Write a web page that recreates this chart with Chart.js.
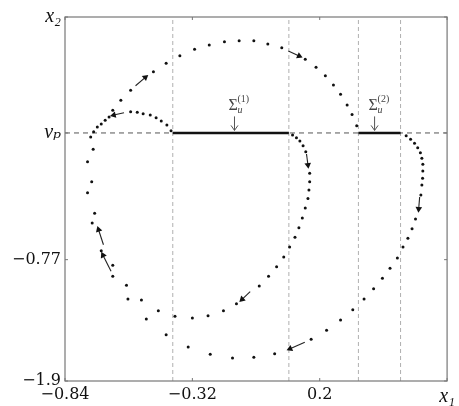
<!DOCTYPE html>
<html>
<head>
<meta charset="utf-8">
<script src="https://cdn.jsdelivr.net/npm/chart.js@4.4.1/dist/chart.umd.min.js"></script>
<style>
  body { margin: 0; background: #fff; }
</style>
</head>
<body>
<canvas id="phaseChart" width="459" height="406"></canvas>
<script>
const xTicks = [-0.84, -0.32, 0.2, 0.72];
const xTickLabels = ['\u22120.84', '\u22120.32', '0.2', 'x\u2081'];
const yTicks = [-1.9, -0.77, 0.41, 1.49];
const yTickLabels = ['\u22121.9', '\u22120.77', 'v\u209A', 'x\u2082'];

const vp = 0.41;
const switchLines = [-0.40, 0.074, 0.358, 0.53];
const sigma1 = [-0.40, 0.074];
const sigma2 = [0.358, 0.53];

// trajectory leaving the right end of sigma1
const traj1 = [
    [0.089, 0.391], [0.105, 0.366], [0.119, 0.335], [0.132, 0.291], [0.143, 0.236],
    [0.159, 0.034], [0.159, -0.044], [0.156, -0.121], [0.152, -0.200], [0.141, -0.289],
    [0.129, -0.382], [0.115, -0.472], [0.099, -0.562], [0.077, -0.652], [0.053, -0.745],
    [0.024, -0.835], [-0.009, -0.925], [-0.047, -1.015], [-0.140, -1.180], [-0.193, -1.245],
    [-0.256, -1.292], [-0.320, -1.313], [-0.391, -1.297], [-0.459, -1.245], [-0.528, -1.146],
    [-0.589, -1.009], [-0.645, -0.822], [-0.719, -0.338], [-0.731, -0.044], [-0.725, 0.258],
    [-0.723, 0.422], [-0.708, 0.466], [-0.676, 0.528], [-0.645, 0.621], [-0.612, 0.714],
    [-0.572, 0.807], [-0.479, 0.981], [-0.427, 1.059], [-0.371, 1.130], [-0.311, 1.189],
    [-0.251, 1.229], [-0.189, 1.260], [-0.129, 1.269], [-0.069, 1.269], [-0.012, 1.239],
    [0.045, 1.204], [0.141, 1.096], [0.185, 1.022], [0.223, 0.943], [0.256, 0.857],
    [0.285, 0.770], [0.312, 0.670], [0.332, 0.582], [0.351, 0.478]
];

// trajectory leaving the right end of sigma2
const traj2 = [
    [0.553, 0.385], [0.571, 0.351], [0.587, 0.314], [0.600, 0.273], [0.611, 0.226],
    [0.617, 0.174], [0.621, 0.118], [0.621, 0.056], [0.620, -0.012], [0.617, -0.075],
    [0.613, -0.168], [0.591, -0.391], [0.577, -0.482], [0.560, -0.571], [0.540, -0.652],
    [0.517, -0.754], [0.487, -0.850], [0.456, -0.943], [0.420, -1.040], [0.381, -1.136],
    [0.335, -1.236], [0.285, -1.332], [0.228, -1.428], [0.165, -1.512], [0.016, -1.646],
    [-0.069, -1.679], [-0.156, -1.686], [-0.247, -1.651], [-0.337, -1.583], [-0.427, -1.469],
    [-0.508, -1.323], [-0.583, -1.136], [-0.645, -0.925], [-0.692, -0.687], [-0.729, -0.429],
    [-0.748, -0.146], [-0.748, 0.142], [-0.735, 0.372], [-0.692, 0.494], [-0.660, 0.559],
    [-0.572, 0.608], [-0.545, 0.602], [-0.521, 0.589], [-0.492, 0.577], [-0.468, 0.552],
    [-0.447, 0.521], [-0.424, 0.484], [-0.407, 0.431]
];

const arrowTails = [
    [-0.552, 0.850], [-0.599, 0.599], [0.072, 1.173], [0.146, 0.214], [0.608, -0.186],
    [-0.084, -1.068], [0.139, -1.540], [-0.683, -0.631], [-0.652, -0.878]
];
const arrowTips = [
    [-0.512, 0.928], [-0.641, 0.577], [0.116, 1.127], [0.152, 0.112], [0.604, -0.298],
    [-0.117, -1.139], [0.079, -1.599], [-0.703, -0.491], [-0.685, -0.729]
];

const sigmaNames = ['(1)', '(2)'];
const sigmaNoteX = [-0.148, 0.424];
const sigmaNoteY = 0.62;

const toPts = arr => arr.map(p => ({ x: p[0], y: p[1] }));
const serif = '"DejaVu Serif", "Liberation Serif", serif';
const mathSerif = '"Liberation Serif", "DejaVu Serif", serif';

function arrowRotation(ctx) {
    if (ctx.type !== 'data') return 0;
    const pts = ctx.chart.data.datasets[ctx.datasetIndex].data;
    const xs = ctx.chart.scales.x, ys = ctx.chart.scales.y;
    const dx = xs.getPixelForValue(pts[1].x) - xs.getPixelForValue(pts[0].x);
    const dy = ys.getPixelForValue(pts[1].y) - ys.getPixelForValue(pts[0].y);
    return Math.atan2(dy, dx) * 180 / Math.PI + 90;
}

const datasets = [];

switchLines.forEach(xv => {
    datasets.push({
        type: 'line',
        data: [{ x: xv, y: -1.9 }, { x: xv, y: 1.49 }],
        borderColor: '#b0b0b0',
        borderWidth: 1,
        borderDash: [4, 3],
        pointRadius: 0,
        order: 10
    });
});

datasets.push({
    type: 'line',
    data: [{ x: -0.84, y: vp }, { x: 0.72, y: vp }],
    borderColor: '#555',
    borderWidth: 1,
    borderDash: [5, 4],
    pointRadius: 0,
    order: 9
});

[sigma1, sigma2].forEach(seg => {
    datasets.push({
        type: 'line',
        data: [{ x: seg[0], y: vp }, { x: seg[1], y: vp }],
        borderColor: '#111',
        borderWidth: 2.6,
        pointRadius: 0,
        order: 5
    });
});

[traj1, traj2].forEach(tr => {
    datasets.push({
        type: 'scatter',
        data: toPts(tr),
        backgroundColor: '#111',
        borderWidth: 0,
        pointRadius: 1.5,
        order: 2
    });
});

arrowTails.forEach((t, i) => {
    datasets.push({
        type: 'line',
        data: toPts([t, arrowTips[i]]),
        borderColor: '#222',
        borderWidth: 1.1,
        backgroundColor: '#111',
        pointBorderWidth: 0,
        pointStyle: 'triangle',
        pointRadius: [0, 3.8],
        rotation: arrowRotation,
        order: 1
    });
});

const framePlugin = {
    id: 'frame',
    afterDatasetsDraw(chart) {
        const { ctx, chartArea: a, scales: { x, y } } = chart;
        ctx.save();
        ctx.strokeStyle = '#777';
        ctx.lineWidth = 1.2;
        ctx.strokeRect(a.left, a.top, a.right - a.left, a.bottom - a.top);

        ctx.lineWidth = 1;
        xTicks.forEach(v => {
            const px = x.getPixelForValue(v);
            ctx.beginPath();
            ctx.moveTo(px, a.bottom); ctx.lineTo(px, a.bottom - 3);
            ctx.moveTo(px, a.top); ctx.lineTo(px, a.top + 3);
            ctx.stroke();
        });
        yTicks.forEach(v => {
            const py = y.getPixelForValue(v);
            ctx.beginPath();
            ctx.moveTo(a.left, py); ctx.lineTo(a.left + 3, py);
            ctx.moveTo(a.right, py); ctx.lineTo(a.right - 3, py);
            ctx.stroke();
        });

        // sliding region labels
        sigmaNames.forEach((name, i) => {
            const cx = x.getPixelForValue(sigmaNoteX[i]);
            const by = y.getPixelForValue(sigmaNoteY);
            ctx.fillStyle = '#444';
            ctx.textAlign = 'left';
            ctx.textBaseline = 'alphabetic';
            ctx.font = '16px "Liberation Serif", serif';
            ctx.fillText('\u03A3', cx - 6, by);
            ctx.font = 'italic 10px "Liberation Serif", serif';
            ctx.fillText('u', cx + 3, by + 3);
            ctx.font = '10px "Liberation Serif", serif';
            ctx.fillText(name, cx + 3, by - 8);

            ctx.strokeStyle = '#555';
            ctx.lineWidth = 1;
            ctx.beginPath();
            ctx.moveTo(cx, by + 6);
            ctx.lineTo(cx, by + 20);
            ctx.moveTo(cx - 3.5, by + 15);
            ctx.lineTo(cx, by + 20);
            ctx.lineTo(cx + 3.5, by + 15);
            ctx.stroke();
        });
        ctx.restore();
    }
};

new Chart(document.getElementById('phaseChart'), {
    data: { datasets: datasets },
    options: {
        responsive: false,
        animation: false,
        devicePixelRatio: 1,
        layout: {
            autoPadding: false,
            padding: { top: 17, right: 4, left: 0, bottom: 0 }
        },
        plugins: {
            legend: { display: false },
            tooltip: { enabled: false }
        },
        scales: {
            x: {
                type: 'linear',
                min: -0.84,
                max: 0.72,
                grid: { display: false, drawTicks: false },
                border: { display: false },
                afterBuildTicks: s => { s.ticks = xTicks.map(v => ({ value: v })); },
                afterFit: s => { s.height = 25; },
                ticks: {
                    padding: 4,
                    color: '#111',
                    maxRotation: 0,
                    autoSkip: false,
                    font: c => c.index === 3
                        ? { family: mathSerif, size: 20, style: 'italic' }
                        : { family: serif, size: 16 },
                    callback: (v, i) => xTickLabels[i]
                }
            },
            y: {
                type: 'linear',
                min: -1.9,
                max: 1.49,
                grid: { display: false, drawTicks: false },
                border: { display: false },
                afterBuildTicks: s => { s.ticks = yTicks.map(v => ({ value: v })); },
                afterFit: s => { s.width = 65; },
                ticks: {
                    padding: 4,
                    color: '#111',
                    autoSkip: false,
                    font: c => c.index >= 2
                        ? { family: mathSerif, size: 20, style: 'italic' }
                        : { family: serif, size: 16 },
                    callback: (v, i) => yTickLabels[i]
                }
            }
        }
    },
    plugins: [framePlugin]
});
</script>
</body>
</html>
